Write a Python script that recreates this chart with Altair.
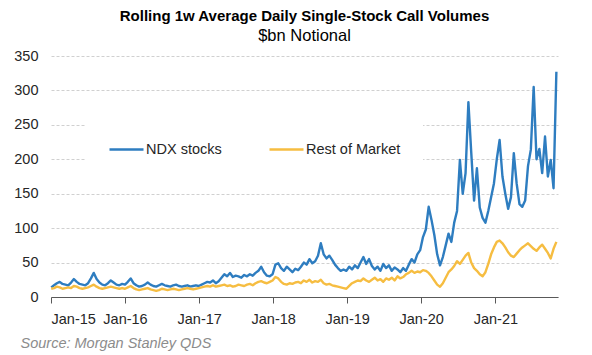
import altair as alt
import pandas as pd

# Biweekly readings, Jan 2015 -> late Oct 2021 ($bn notional)
ndx_2015 = [14, 17, 20, 22, 19, 18, 17, 21, 26, 22, 19, 18, 17, 20, 27, 35, 26, 21, 18, 17, 20, 24, 21, 18, 17, 19]
ndx_2016 = [18, 22, 27, 20, 17, 15, 16, 18, 21, 18, 16, 15, 17, 19, 17, 16, 15, 17, 18, 16, 15, 16, 17, 15, 16, 17]
ndx_2017 = [16, 18, 20, 22, 21, 24, 20, 23, 28, 33, 30, 35, 29, 31, 30, 28, 32, 30, 33, 31, 35, 38, 44, 36, 31, 30]
ndx_2018 = [33, 47, 49, 42, 38, 44, 40, 36, 41, 39, 44, 50, 47, 55, 49, 52, 60, 78, 62, 56, 60, 54, 47, 42, 38, 40]
ndx_2019 = [38, 44, 40, 46, 42, 50, 58, 48, 55, 45, 40, 44, 38, 48, 42, 46, 38, 43, 40, 36, 42, 38, 47, 55, 50, 62]
ndx_2020 = [68, 87, 98, 131, 112, 90, 62, 46, 58, 75, 92, 80, 108, 125, 199, 150, 180, 283, 210, 140, 187, 130, 115, 108, 125, 145]
ndx_2021 = [165, 200, 228, 175, 150, 128, 145, 209, 165, 135, 131, 140, 190, 214, 305, 200, 215, 180, 233, 175, 199, 158, 327]

rest_2015 = [12, 13, 15, 14, 12, 13, 14, 13, 16, 15, 13, 12, 13, 14, 16, 18, 15, 13, 12, 13, 14, 15, 14, 13, 12, 13]
rest_2016 = [12, 14, 16, 13, 11, 10, 11, 12, 13, 11, 10, 9, 10, 12, 11, 10, 11, 12, 11, 10, 11, 12, 13, 12, 11, 12]
rest_2017 = [13, 14, 15, 16, 15, 17, 15, 16, 17, 18, 16, 17, 15, 16, 18, 17, 16, 18, 19, 17, 20, 22, 23, 21, 20, 22]
rest_2018 = [24, 29, 27, 22, 19, 18, 20, 19, 21, 22, 20, 24, 22, 25, 21, 23, 22, 25, 20, 18, 19, 17, 16, 15, 14, 13]
rest_2019 = [12, 16, 20, 22, 24, 23, 27, 24, 22, 25, 28, 24, 26, 22, 27, 25, 28, 24, 30, 27, 29, 33, 35, 38, 35, 37]
rest_2020 = [36, 39, 38, 35, 30, 24, 18, 15, 20, 28, 36, 40, 45, 52, 48, 54, 60, 64, 50, 42, 38, 33, 30, 36, 48, 62]
rest_2021 = [72, 80, 82, 78, 72, 65, 60, 58, 63, 68, 72, 75, 78, 74, 70, 67, 72, 76, 70, 64, 56, 70, 80]

series_names = ["NDX stocks", "Rest of Market"]
year_ticks = ["2015-01-01", "2016-01-01", "2017-01-01", "2018-01-01", "2019-01-01", "2020-01-01", "2021-01-01"]
y_ticks = [0, 50, 100, 150, 200, 250, 300, 350]

ndx = ndx_2015 + ndx_2016 + ndx_2017 + ndx_2018 + ndx_2019 + ndx_2020 + ndx_2021
rest = rest_2015 + rest_2016 + rest_2017 + rest_2018 + rest_2019 + rest_2020 + rest_2021
dates = pd.date_range("2015-01-02", periods=len(ndx), freq="14D")

df = pd.concat([
    pd.DataFrame({"date": dates, "value": ndx, "series": series_names[0]}),
    pd.DataFrame({"date": dates, "value": rest, "series": series_names[1]}),
])

FONT = "Liberation Sans"

chart = alt.Chart(df).mark_line(strokeWidth=2.4, strokeJoin="round").encode(
    x=alt.X("date:T",
            scale=alt.Scale(domain=["2015-01-01", "2021-11-06"], nice=False),
            axis=alt.Axis(values=year_ticks, format="%b-%y", grid=False,
                          domainColor="#595959", tickColor="#595959", tickSize=6,
                          labelFontSize=14.5, labelColor="#262626", labelPadding=9,
                          labelFont=FONT,
                          title="Source: Morgan Stanley QDS", titleFont=FONT,
                          titleFontStyle="italic", titleFontWeight="normal",
                          titleFontSize=14.5, titleColor="#8c8c8c",
                          titleAnchor="start", titleAlign="left",
                          titleX=-31, titleY=50, titleBaseline="alphabetic")),
    y=alt.Y("value:Q",
            scale=alt.Scale(domain=[0, 350], nice=False),
            axis=alt.Axis(values=y_ticks, domain=False, ticks=False, title=None,
                          gridColor="#d0d0d0", gridDash=[3, 2], gridWidth=1,
                          labelFontSize=14.5, labelColor="#262626", labelPadding=13,
                          labelFont=FONT)),
    color=alt.Color("series:N",
                    scale=alt.Scale(domain=series_names, range=["#2E7DC0", "#F6BD41"]),
                    legend=alt.Legend(title=None, orient="none", legendX=35, legendY=53,
                                      direction="horizontal", symbolType="stroke",
                                      symbolSize=1156, symbolStrokeWidth=2.5,
                                      labelFontSize=14.5, labelColor="#262626", labelFont=FONT,
                                      labelOffset=1, columnPadding=42,
                                      fillColor="white", padding=22)),
    order=alt.Order("series:N", sort="descending"),
).properties(
    width=507,
    height=241,
    padding={"left": 43, "top": 48, "right": 26, "bottom": 55},
    autosize=alt.AutoSizeParams(type="none"),
    title=alt.TitleParams(text="Rolling 1w Average Daily Single-Stock Call Volumes",
                          subtitle="$bn Notional", font=FONT, subtitleFont=FONT,
                          fontSize=15, fontWeight="bold", color="#000000",
                          subtitleFontSize=16.5, subtitleColor="#000000",
                          anchor="middle", offset=4, subtitlePadding=4),
).configure_view(stroke=None)

chart.save("out.html", embed_options={"renderer": "svg", "actions": False})
